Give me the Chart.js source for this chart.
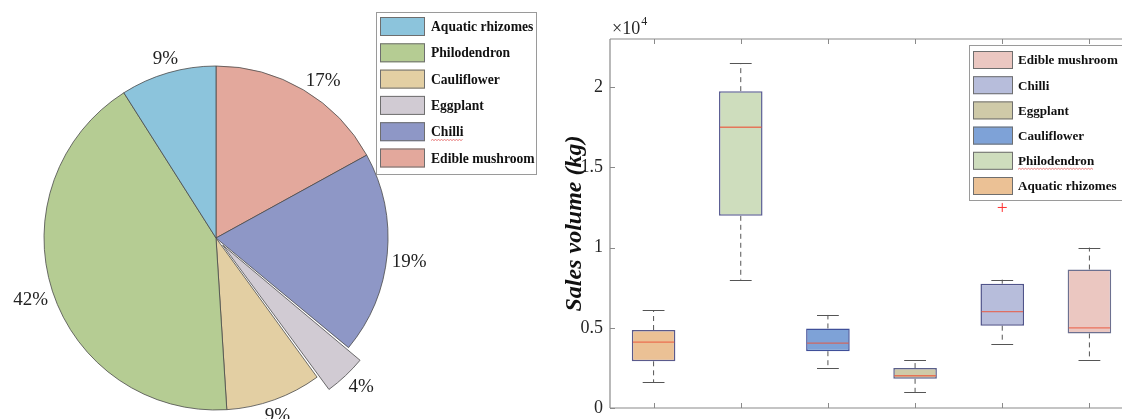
<!DOCTYPE html>
<html>
<head>
<meta charset="utf-8">
<script src="https://cdn.jsdelivr.net/npm/chart.js@4.4.1/dist/chart.umd.min.js"></script>
<style>
  html, body { margin: 0; padding: 0; background: #fff; overflow: hidden; width: 1122px; height: 419px; }
  #pie { position: absolute; left: 0; top: 0; }
  #box { position: absolute; left: 560px; top: 0; }
</style>
</head>
<body>
<canvas id="pie" width="560" height="419"></canvas>
<canvas id="box" width="600" height="419"></canvas>
<script>
// ---- categories and shares (pie) ----
const categories = ['Aquatic rhizomes', 'Philodendron', 'Cauliflower', 'Eggplant', 'Chilli', 'Edible mushroom'];
const shares = [9, 42, 9, 4, 19, 17];
const pieColors = ['#8CC4DC', '#B5CC93', '#E3CFA3', '#D1CBD3', '#8E97C6', '#E3A89C'];
const explodedSlice = 'Eggplant';
const underlinedPie = ['Chilli'];

// ---- sales volume distribution (box plot), kg ----
const whiskerLow  = [1610,  8000, 2490, 1000, 4020, 3020];
const q1          = [2910, 11980, 3540, 1820, 5130, 4650];
const medians     = [4100, 17500, 4040, 2010, 6010, 5000];
const q3          = [4860, 19750, 4960, 2490, 7750, 8630];
const whiskerHigh = [6100, 21500, 5800, 3000, 8000, 10000];
const outliers    = [[], [], [], [], [12500], []];
const boxFill = ['#EBC195', '#CEDDBD', '#7EA2D7', '#CFCAA8', '#B7BDDB', '#EBC7C1'];
const boxEdge = ['#5A5A8C', '#5C5F94', '#3F4F99', '#5A5F8A', '#50548A', '#6C7090'];
const underlinedBox = ['Philodendron'];
const yTicks = [0, 5000, 10000, 15000, 20000];
const yMax = 23000;

const SERIF = "'Liberation Serif', 'Times New Roman', serif";
Chart.defaults.font.family = SERIF;
Chart.defaults.animation = false;

// red wavy mark under a word
function squiggle(ctx, x0, x1, y) {
  ctx.save();
  ctx.strokeStyle = '#E04848';
  ctx.lineWidth = 0.7;
  ctx.beginPath();
  let up = true;
  ctx.moveTo(x0, y);
  for (let x = x0 + 1.5; x <= x1; x += 1.5) {
    ctx.lineTo(x, up ? y - 1 : y);
    up = !up;
  }
  ctx.stroke();
  ctx.restore();
}

// framed legend with colour swatches
function drawLegend(ctx, cfg, items) {
  ctx.save();
  ctx.fillStyle = '#fff';
  ctx.fillRect(cfg.x, cfg.y, cfg.w, cfg.h);
  ctx.strokeStyle = '#9A9A9A';
  ctx.lineWidth = 1;
  ctx.strokeRect(cfg.x + 0.5, cfg.y + 0.5, cfg.w, cfg.h);
  ctx.font = 'bold ' + cfg.fontSize + 'px ' + SERIF;
  ctx.textBaseline = 'middle';
  ctx.textAlign = 'left';
  items.forEach((it, i) => {
    const top = cfg.rowTop + i * cfg.pitch;
    ctx.fillStyle = it.color;
    ctx.fillRect(cfg.swX, top, cfg.swW, cfg.swH);
    ctx.strokeStyle = '#6E6E6E';
    ctx.lineWidth = 1;
    ctx.strokeRect(cfg.swX + 0.5, top + 0.5, cfg.swW - 1, cfg.swH - 1);
    ctx.fillStyle = '#111';
    const cy = top + cfg.swH / 2 + 1;
    ctx.fillText(it.label, cfg.textX, cy);
    if (it.underline) {
      const w = ctx.measureText(it.label).width;
      squiggle(ctx, cfg.textX, cfg.textX + w, cy + cfg.fontSize / 2 + 1);
    }
  });
  ctx.restore();
}

// ---------------- pie ----------------
const explodeShift = 17;
const totalShare = shares.reduce((a, b) => a + b, 0);
// slices run counter-clockwise from the top, so feed them to Chart.js reversed
const order = categories.map((_, i) => i).reverse();
function arcOffset(frac) {
  const c = frac * 2 * Math.PI;
  const fix = 1 - Math.sin(Math.min(Math.PI, c));
  return explodeShift * 4 / (1 + fix);
}

const pieLabelsPlugin = {
  id: 'pieLabels',
  afterDraw(chart) {
    const ctx = chart.ctx;
    const meta = chart.getDatasetMeta(0);
    const fs = 19, capH = 12.6;
    ctx.save();
    ctx.font = fs + 'px ' + SERIF;
    ctx.fillStyle = '#222';
    ctx.textBaseline = 'alphabetic';
    meta.data.forEach((arc, j) => {
      const i = order[j];
      const txt = Math.round(shares[i] / totalShare * 100) + '%';
      const a = (arc.startAngle + arc.endAngle) / 2;
      const dx = Math.cos(a), dy = Math.sin(a);
      const centred = Math.abs(dx) < 0.35;
      let d = (centred ? 1.055 : 1.026) * arc.outerRadius;
      if (categories[i] === explodedSlice) d += explodeShift;
      // the label's side nearest the centre sits on the slice bisector
      const px = arc.x + d * dx, py = arc.y + d * dy;
      if (centred) ctx.textAlign = 'center';
      else ctx.textAlign = dx > 0 ? 'left' : 'right';
      const base = dy > 0 ? py + capH : py;
      ctx.fillText(txt, px, base);
    });
    ctx.restore();
    drawLegend(ctx, {
      x: 376, y: 12, w: 160, h: 162,
      swX: 380, swW: 45, swH: 19, rowTop: 17, pitch: 26.3,
      textX: 431, fontSize: 13.6
    }, categories.map((c, i) => ({ label: c, color: pieColors[i], underline: underlinedPie.includes(c) })));
  }
};

new Chart(document.getElementById('pie'), {
  type: 'pie',
  data: {
    labels: order.map(i => categories[i]),
    datasets: [{
      data: order.map(i => shares[i]),
      backgroundColor: order.map(i => pieColors[i]),
      borderColor: '#4A4A4A',
      borderWidth: 0.8,
      offset: order.map(i => categories[i] === explodedSlice ? arcOffset(shares[i] / totalShare) : 0)
    }]
  },
  options: {
    responsive: false,
    radius: 172,
    layout: { padding: { left: 0, right: 128, top: 57, bottom: 0 } },
    plugins: { legend: { display: false }, tooltip: { enabled: false } }
  },
  plugins: [pieLabelsPlugin]
});

// ---------------- box plot ----------------
const AXIS = '#8A8A8A';

const boxPartsPlugin = {
  id: 'boxParts',
  beforeDatasetsDraw(chart) {
    const ctx = chart.ctx;
    const x = chart.scales.x, y = chart.scales.y;
    const bars = chart.getDatasetMeta(0).data;
    ctx.save();
    ctx.strokeStyle = '#555';
    ctx.lineWidth = 1;
    categories.forEach((c, i) => {
      const cx = x.getPixelForValue(i);
      const capHalf = bars[i].width / 4;
      // dashed whiskers
      ctx.setLineDash([5, 4]);
      ctx.beginPath();
      ctx.moveTo(cx, y.getPixelForValue(q3[i]));
      ctx.lineTo(cx, y.getPixelForValue(whiskerHigh[i]));
      ctx.moveTo(cx, y.getPixelForValue(q1[i]));
      ctx.lineTo(cx, y.getPixelForValue(whiskerLow[i]));
      ctx.stroke();
      // caps
      ctx.setLineDash([]);
      ctx.lineWidth = 1.2;
      ctx.beginPath();
      const yh = Math.round(y.getPixelForValue(whiskerHigh[i])) + 0.5;
      const yl = Math.round(y.getPixelForValue(whiskerLow[i])) + 0.5;
      ctx.moveTo(cx - capHalf, yh); ctx.lineTo(cx + capHalf, yh);
      ctx.moveTo(cx - capHalf, yl); ctx.lineTo(cx + capHalf, yl);
      ctx.stroke();
      ctx.lineWidth = 1;
    });
    ctx.restore();
  },
  afterDatasetsDraw(chart) {
    const ctx = chart.ctx;
    const x = chart.scales.x, y = chart.scales.y;
    const bars = chart.getDatasetMeta(0).data;
    ctx.save();
    ctx.strokeStyle = 'rgba(236, 84, 58, 0.75)';
    ctx.lineWidth = 1.3;
    categories.forEach((c, i) => {
      const cx = x.getPixelForValue(i);
      const half = bars[i].width / 2 - 1;
      const ym = y.getPixelForValue(medians[i]);
      ctx.beginPath();
      ctx.moveTo(cx - half, ym); ctx.lineTo(cx + half, ym);
      ctx.stroke();
    });
    ctx.restore();
  },
  afterDraw(chart) {
    const ctx = chart.ctx;
    const a = chart.chartArea;
    const x = chart.scales.x, y = chart.scales.y;
    ctx.save();
    ctx.strokeStyle = AXIS;
    ctx.lineWidth = 1.2;
    ctx.beginPath();
    ctx.moveTo(a.left, a.top); ctx.lineTo(a.left, a.bottom);
    ctx.moveTo(a.left, a.bottom); ctx.lineTo(a.right, a.bottom);
    ctx.moveTo(a.left, a.top); ctx.lineTo(a.right, a.top);
    ctx.stroke();
    ctx.lineWidth = 1;
    ctx.beginPath();
    yTicks.forEach(v => {
      const py = Math.round(y.getPixelForValue(v)) + 0.5;
      ctx.moveTo(a.left, py); ctx.lineTo(a.left + 5, py);
    });
    categories.forEach((c, i) => {
      const px = Math.round(x.getPixelForValue(i)) + 0.5;
      ctx.moveTo(px, a.bottom); ctx.lineTo(px, a.bottom - 5);
      ctx.moveTo(px, a.top); ctx.lineTo(px, a.top + 5);
    });
    ctx.stroke();
    // exponent note above the y axis
    ctx.fillStyle = '#262626';
    ctx.textBaseline = 'alphabetic';
    ctx.textAlign = 'left';
    ctx.font = '18px ' + SERIF;
    ctx.fillText('\u00D710', a.left + 2, a.top - 5);
    const w = ctx.measureText('\u00D710').width;
    ctx.font = '12px ' + SERIF;
    ctx.fillText('4', a.left + 3 + w, a.top - 14);
    ctx.restore();

    drawLegend(ctx, {
      x: 409, y: 45, w: 200, h: 155,
      swX: 413, swW: 40, swH: 18, rowTop: 51, pitch: 25.2,
      textX: 458, fontSize: 13.1
    }, categories.map((c, i) => ({ label: c, color: boxFill[i], underline: underlinedBox.includes(c) })).reverse());
  }
};

const outlierPoints = [];
outliers.forEach((list, i) => list.forEach(v => outlierPoints.push({ x: categories[i], y: v })));

new Chart(document.getElementById('box'), {
  type: 'bar',
  data: {
    labels: categories,
    datasets: [{
      type: 'bar',
      data: categories.map((c, i) => [q1[i], q3[i]]),
      backgroundColor: boxFill,
      borderColor: boxEdge,
      borderWidth: 1.5,
      borderSkipped: false,
      barPercentage: 0.5,
      categoryPercentage: 1
    }, {
      type: 'line',
      data: outlierPoints,
      showLine: false,
      pointStyle: 'cross',
      pointRadius: 4.5,
      pointBorderColor: '#FF3030',
      pointBorderWidth: 1,
      pointBackgroundColor: '#FF3030'
    }]
  },
  options: {
    responsive: false,
    layout: { padding: { left: 0, right: 27, top: 39, bottom: 11 } },
    plugins: { legend: { display: false }, tooltip: { enabled: false } },
    scales: {
      x: {
        display: false,
        offset: true,
        grid: { display: false }
      },
      y: {
        min: 0,
        max: yMax,
        grid: { display: false, drawTicks: false },
        border: { display: false },
        afterFit: s => { s.width = 50; s.paddingTop = 0; s.paddingBottom = 0; },
        afterBuildTicks: s => { s.ticks = yTicks.map(v => ({ value: v })); },
        ticks: {
          padding: 7,
          color: '#262626',
          font: { size: 18, family: SERIF },
          callback: v => String(v / 10000)
        },
        title: {
          display: true,
          text: 'Sales volume (kg)',
          color: '#111',
          padding: 0,
          font: { size: 24, style: 'italic', weight: 'bold', family: SERIF }
        }
      }
    }
  },
  plugins: [boxPartsPlugin]
});
</script>
</body>
</html>
